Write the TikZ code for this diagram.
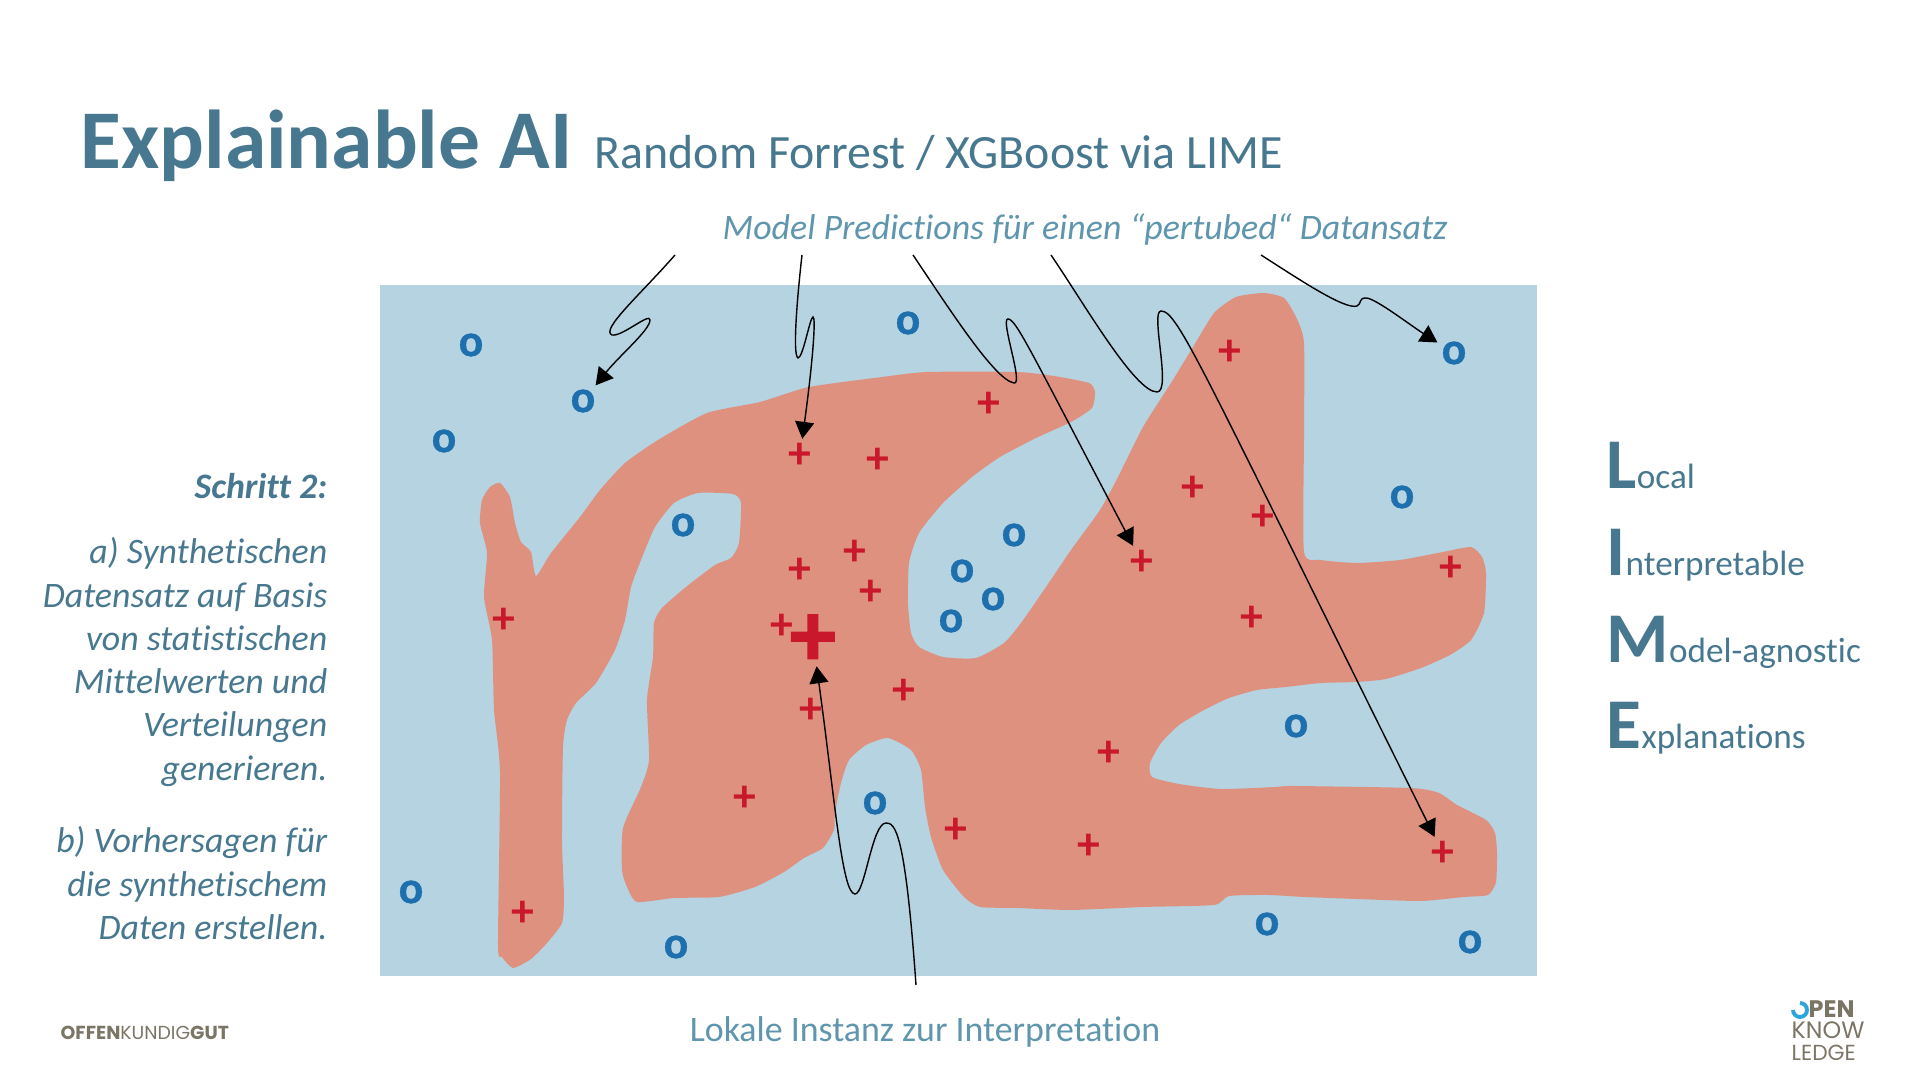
\documentclass[tikz,border=0pt]{standalone}
\usepackage{fontspec}
\setmainfont[Ligatures=NoCommon]{Carlito}
\newfontfamily\logofont{Poppins}
\newfontfamily\heavyo[BoldFeatures={FakeBold=0.8}]{Carlito}
\newfontfamily\heavyplus[BoldFeatures={FakeBold=2}]{Carlito}
\usetikzlibrary{arrows.meta}
\definecolor{fieldblue}{HTML}{B5D3E1}
\definecolor{blobred}{HTML}{DF9180}
\definecolor{plusred}{HTML}{C9182C}
\definecolor{circleblue}{HTML}{1E6FAE}
\definecolor{titleblue}{HTML}{47788F}
\definecolor{noteblue}{HTML}{5F96AE}
\definecolor{logogray}{HTML}{7B7566}
\definecolor{logoblue}{HTML}{2BA5DC}
\newcommand{\sized}[1]{\fontsize{#1}{#1}\selectfont}
\tikzset{
	markO/.style={inner sep=1pt,text=circleblue,font=\heavyo\sized{13}\bfseries},
	markP/.style={inner sep=1pt,yshift=-.5pt,text=plusred,font=\sized{13}\bfseries},
	pointer/.style={-{Triangle[length=1.7mm,width=1.9mm]},line width=.4pt,black},
	steptext/.style={anchor=north east,inner sep=0pt,align=right,text=titleblue,font=\sized{10.2}\itshape},
	notetext/.style={anchor=base,inner sep=0pt,text=noteblue,font=\sized{10.2}},
	limetext/.style={anchor=base west,inner sep=0pt,text=titleblue,font=\sized{10}},
	logotext/.style={anchor=base west,inner sep=0pt,text=logogray,font=\logofont\sized{5.35}}
}
\newcommand{\bigL}[1]{{\sized{20.3}\bfseries #1}}
\begin{document}
\begin{tikzpicture}[x=0.01cm,y=-0.01cm]
	\useasboundingbox (0,0) rectangle (1920,1080);
	\fill[fieldblue] (380,285) rectangle (1537,976);
	\fill[blobred] plot[smooth cycle,tension=0.35] coordinates {
		(500,483) (510,497) (515,523) (521,542) (531,552) (536,576) (551,553) (580,517) (600,490)
		(625,463) (658,440) (707,413) (760,402) (809,387) (882,377) (927,372) (1017,372) (1054,376)
		(1089,383) (1095,392) (1092,408) (1071,422) (1036,438) (1000,457) (972,477) (943,503) (919,533)
		(909,563) (908,603) (911,633) (919,647) (943,657) (976,658) (1004,643) (1021,623) (1046,587)
		(1071,550) (1100,510) (1118,477) (1143,427) (1171,383) (1193,347) (1214,313) (1236,297) (1264,293)
		(1284,298) (1296,317) (1304,343) (1304,437) (1304,552) (1321,560) (1357,563) (1400,560) (1443,552)
		(1471,547) (1482,557) (1486,573) (1484,613) (1471,640) (1450,655) (1421,668) (1386,679) (1357,682)
		(1321,683) (1286,687) (1257,690) (1229,698) (1204,710) (1179,725) (1161,743) (1150,763) (1152,777)
		(1179,784) (1221,789) (1275,787) (1293,786) (1411,788) (1439,793) (1457,805) (1486,820) (1495,833)
		(1497,853) (1496,882) (1488,895) (1464,897) (1421,901) (1357,899) (1304,897) (1268,895) (1229,896)
		(1214,905) (1143,907) (1071,910) (1017,908) (980,907) (964,897) (943,870) (931,837) (925,807)
		(921,770) (911,750) (888,738) (866,745) (849,760) (841,783) (835,813) (834,830) (823,848)
		(804,858) (784,872) (755,887) (719,897) (674,898) (637,902) (627,887) (622,870) (623,828)
		(641,787) (649,760) (647,700) (653,657) (654,623) (662,608) (686,587) (715,565) (731,558)
		(739,543) (741,503) (733,494) (698,493) (674,503) (655,527) (641,560) (631,587) (625,620)
		(615,650) (596,683) (576,703) (567,720) (563,747) (562,840) (564,897) (562,923) (547,943)
		(531,959) (513,968) (502,957) (498,945) (500,773) (494,710) (492,640) (484,597) (487,553)
		(480,523) (482,500) (490,487)
	};
	\node[markO] (o1) at (471,345) {o};
	\node[markO] (o2) at (583,401) {o};
	\node[markO] (o3) at (444,441) {o};
	\node[markO] (o4) at (908,323) {o};
	\node[markO] (o5) at (683,525) {o};
	\node[markO] (o6) at (962,571) {o};
	\node[markO] (o7) at (993,599) {o};
	\node[markO] (o8) at (951,621) {o};
	\node[markO] (o9) at (1014,535) {o};
	\node[markO] (o10) at (1454,353) {o};
	\node[markO] (o11) at (1402,497) {o};
	\node[markO] (o12) at (411,892) {o};
	\node[markO] (o13) at (676,947) {o};
	\node[markO] (o14) at (875,803) {o};
	\node[markO] (o15) at (1296,726) {o};
	\node[markO] (o16) at (1267,924) {o};
	\node[markO] (o17) at (1470,942) {o};
	\node[markP] (p1) at (800,454) {+};
	\node[markP] (p2) at (878,459) {+};
	\node[markP] (p3) at (855,551) {+};
	\node[markP] (p4) at (800,569) {+};
	\node[markP] (p5) at (871,591) {+};
	\node[markP] (p6) at (782,625) {+};
	\node[markP] (p7) at (504,619) {+};
	\node[markP] (p8) at (989,403) {+};
	\node[markP] (p9) at (1230,351) {+};
	\node[markP] (p10) at (1193,487) {+};
	\node[markP] (p11) at (1263,516) {+};
	\node[markP] (p12) at (1142,561) {+};
	\node[markP] (p13) at (1451,567) {+};
	\node[markP] (p14) at (1252,617) {+};
	\node[markP] (p15) at (811,709) {+};
	\node[markP] (p16) at (904,690) {+};
	\node[markP] (p17) at (745,797) {+};
	\node[markP] (p18) at (523,912) {+};
	\node[markP] (p19) at (956,829) {+};
	\node[markP] (p20) at (1109,752) {+};
	\node[markP] (p21) at (1089,845) {+};
	\node[markP] (p22) at (1443,852) {+};
	\node[markP,inner sep=0pt,yshift=-1pt,font=\heavyplus\sized{26}\bfseries] (pbig) at (813,635) {+};
	\coordinate (from1) at (675,255);
	\coordinate (from2) at (802,255);
	\coordinate (from3) at (913,255);
	\coordinate (from4) at (1051,255);
	\coordinate (from5) at (1261,255);
	\coordinate (from6) at (916,985);
	\draw[pointer] (from1) .. controls (640,295) and (600,330) .. (612,335) .. controls (622,337) and (650,312) .. (650,320) .. controls (650,330) and (620,355) .. (o2);
	\draw[pointer] (from2) .. controls (798,290) and (792,355) .. (798,358) .. controls (803,358) and (810,317) .. (813,317) .. controls (816,317) and (813,360) .. (p1);
	\draw[pointer] (from3) .. controls (950,310) and (995,380) .. (1014,383) .. controls (1024,385) and (1000,319) .. (1008,319) .. controls (1016,319) and (1030,350) .. (p12);
	\draw[pointer] (from4) .. controls (1085,305) and (1135,392) .. (1157,392) .. controls (1172,392) and (1150,311) .. (1161,311) .. controls (1178,311) and (1200,365) .. (p22);
	\draw[pointer] (from5) .. controls (1300,280) and (1345,310) .. (1357,306) .. controls (1362,304) and (1358,298) .. (1366,298) .. controls (1375,298) and (1410,325) .. (o10);
	\draw[pointer] (from6) .. controls (905,830) and (895,823) .. (886,823) .. controls (872,823) and (865,894) .. (855,894) .. controls (842,894) and (835,800) .. (pbig);
	\node[anchor=base west,inner sep=0pt,text=titleblue,font=\sized{23.75}\bfseries] (title) at (80,169) {Explainable AI};
	\node[anchor=base west,inner sep=0pt,text=titleblue,font=\sized{13.6}] (subtitle) at (594,169) {Random Forrest / XGBoost via LIME};
	\node[notetext,font=\sized{10.2}\itshape] (predictions) at (1085,240) {Model Predictions für einen “pertubed“ Datansatz};
	\node[notetext] (lokal) at (925,1042) {Lokale Instanz zur Interpretation};
	\node[steptext,font=\sized{10.2}\bfseries\itshape] (step) at (328,473) {Schritt 2:};
	\node[steptext] (stepa) at (328,537) {a) Synthetischen\\[2.1pt]Datensatz auf Basis\\[2.1pt]von statistischen\\[2.1pt]Mittelwerten und\\[2.1pt]Verteilungen\\[2.1pt]generieren.};
	\node[steptext] (stepb) at (328,826) {b) Vorhersagen für\\[2.1pt]die synthetischem\\[2.1pt]Daten erstellen.};
	\node[limetext] (local) at (1606,489) {\bigL{L}ocal};
	\node[limetext] (interpretable) at (1606,576) {\bigL{I}nterpretable};
	\node[limetext] (agnostic) at (1606,663) {\bigL{M}odel-agnostic};
	\node[limetext] (explanations) at (1606,749) {\bigL{E}xplanations};
	\node[logotext] (offen) at (60,1040) {\textbf{OFFEN}KUNDIG\textbf{GUT}};
	\draw[logoblue,line width=1.1pt] (1800,1003) arc[start angle=-90,end angle=180,radius=7];
	\node[logotext,font=\logofont\sized{6.8}\bfseries] (open) at (1808,1018) {PEN};
	\node[logotext,font=\logofont\sized{6.75}] (know) at (1791,1039) {KNOW};
	\node[logotext,font=\logofont\sized{6.2}] (ledge) at (1791,1061) {LEDGE};
\end{tikzpicture}
\end{document}
